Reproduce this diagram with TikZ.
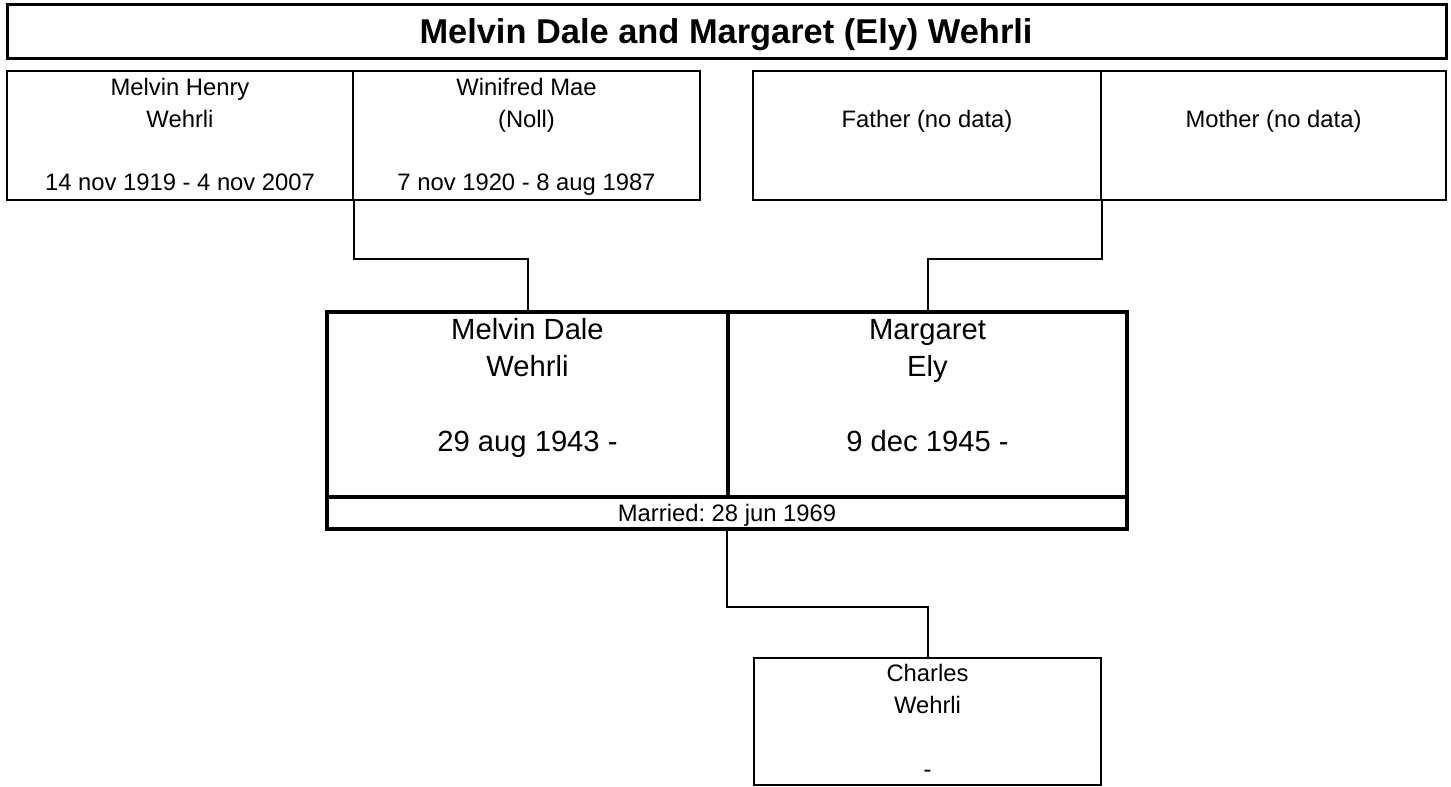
\documentclass[tikz,border=0pt]{standalone}
\usepackage{fontspec}
\setmainfont{Liberation Sans}
\usetikzlibrary{fit}
\frenchspacing
\begin{document}
\begin{tikzpicture}[x=0.5pt,y=-0.5pt,
  thinbox/.style={draw,line width=1pt,inner sep=0pt},
  thickbox/.style={draw,line width=1.75pt,inner sep=0pt},
  titlebox/.style={draw,line width=1.5pt,inner sep=0pt},
  small/.style={font=\fontsize{11.9}{14}\selectfont,anchor=base,inner sep=0pt},
  big/.style={font=\fontsize{14.6}{17}\selectfont,anchor=base,inner sep=0pt},
  ttl/.style={font=\bfseries\fontsize{17.2}{20}\selectfont,anchor=base,inner sep=0pt},
  link/.style={draw,line width=1pt}]
\useasboundingbox (0,0) rectangle (1451,787);

% title
\node[titlebox,fit={(7,4)(1446,58)}] (title) {};
\node[ttl] (titletext) at (726,43.5) {Melvin Dale and Margaret (Ely) Wehrli};

% grandparents
\node[thinbox,fit={(7,71)(353,200)}] (f1) {};
\node[thinbox,fit={(353,71)(700,200)}] (f2) {};
\node[thinbox,fit={(753,71)(1101,200)}] (f3) {};
\node[thinbox,fit={(1101,71)(1446,200)}] (f4) {};

\node[small] (f1a) at (180,95) {Melvin Henry};
\node[small] (f1b) at (180,127) {Wehrli};
\node[small] (f1c) at (180,190) {14 nov 1919 - 4 nov 2007};
\node[small] (f2a) at (526.5,95) {Winifred Mae};
\node[small] (f2b) at (526.5,127) {(Noll)};
\node[small] (f2c) at (526.5,190) {7 nov 1920 - 8 aug 1987};
\node[small] (f3a) at (927,127) {Father (no data)};
\node[small] (f4a) at (1273.5,127) {Mother (no data)};

% couple
\node[thickbox,fit={(327,312)(728,497)}] (md) {};
\node[thickbox,fit={(728,312)(1127,497)}] (mg) {};
\node[thickbox,fit={(327,497)(1127,529)}] (mar) {};

\node[big] (mda) at (527.5,339) {Melvin Dale};
\node[big] (mdb) at (527.5,376) {Wehrli};
\node[big] (mdc) at (527.5,451.5) {29 aug 1943 -};
\node[big] (mga) at (927.5,339) {Margaret};
\node[big] (mgb) at (927.5,376) {Ely};
\node[big] (mgc) at (927.5,451.5) {9 dec 1945 -};
\node[small] (mart) at (727,521) {Married: 28 jun 1969};

% child
\node[thinbox,fit={(754,658)(1101,785)}] (ch) {};
\node[small] (cha) at (927.5,681.5) {Charles};
\node[small] (chb) at (927.5,713.5) {Wehrli};
\node[small] (chc) at (927.5,777.5) {-};

% connectors
\draw[link] (f1.south east) -- ++(0,58) -| (md.north);
\draw[link] (f3.south east) -- ++(0,58) -| (mg.north);
\draw[link] (mar.south) -- ++(0,76) -| (ch.north);
\end{tikzpicture}
\end{document}
